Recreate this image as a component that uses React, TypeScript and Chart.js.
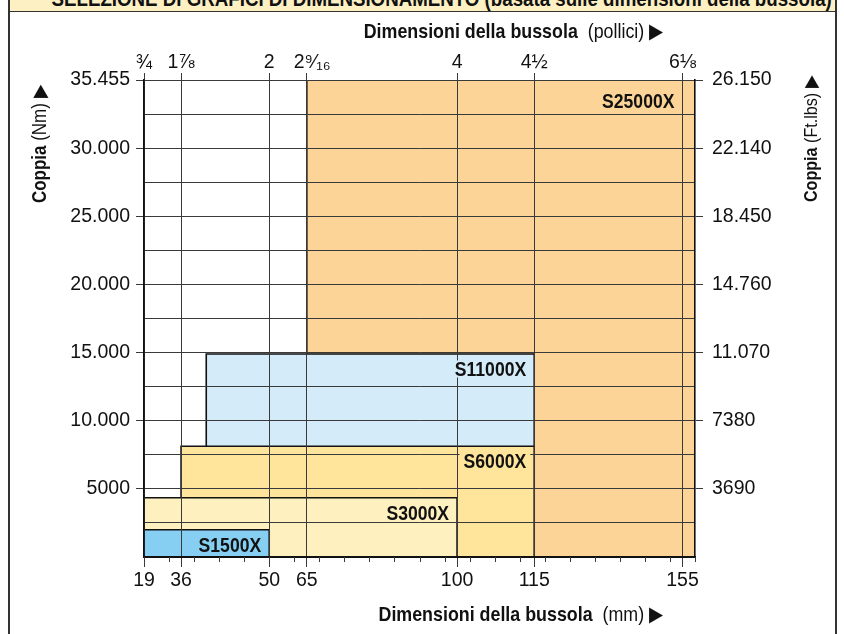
import React, { useEffect, useRef } from 'react';
import { Chart, registerables, LinearScale } from 'chart.js';

Chart.register(...registerables);

// ---------------- data ----------------
const MODELS = ['S1500X', 'S3000X', 'S6000X', 'S11000X', 'S25000X'];
const SIZE_MIN_MM = [19, 19, 36, 40, 65];
const SIZE_MAX_MM = [50, 100, 115, 115, 158];
const TORQUE_MAX_NM = [2000, 4350, 8130, 14900, 35000];

const MM_TICKS = [19, 36, 50, 65, 100, 115, 155];
const MM_LABELS = ['19', '36', '50', '65', '100', '115', '155'];
const INCH_LABELS = ['¾', '1⅞', '2', '  2⁹⁄₁₆', '4', '4½', '6⅛'];

const NM_GRID = [0, 2500, 5000, 7500, 10000, 12500, 15000, 17500, 20000, 22500, 25000, 27500, 30000, 32500, 35000];
const NM_MAJOR = [5000, 10000, 15000, 20000, 25000, 30000, 35000];
const NM_LABELS = ['5000', '10.000', '15.000', '20.000', '25.000', '30.000', '35.455'];
const FTLB_LABELS = ['3690', '7380', '11.070', '14.760', '18.450', '22.140', '26.150'];

// ---------------- axis layout (schematic, non-proportional size axis) ----------------
const AXIS_MM = [19, 36, 50, 65, 100, 115, 155, 158];
const AXIS_UNITS = [0, 1.48, 5, 6.5, 12.5, 15.58, 21.5, 22];
const UNIT_SPAN = AXIS_UNITS[AXIS_UNITS.length - 1];

// ---------------- styles ----------------
const FILLS = ['#86CFF3', '#FEF0BF', '#FEE59B', '#D4EBF9', '#FDD497'];
const GRID = '#3a3a3a';
const INK = '#111111';
const SANS = '"Liberation Sans", Arial, Helvetica, sans-serif';
const CONDENSE = 0.87;

function interp(v: number, xs: number[], ys: number[]) {
  for (let i = 1; i < xs.length; i++) {
    if (v <= xs[i] || i === xs.length - 1) {
      const t = (v - xs[i - 1]) / (xs[i] - xs[i - 1]);
      return ys[i - 1] + t * (ys[i] - ys[i - 1]);
    }
  }
  return ys[ys.length - 1];
}

class SchematicScale extends LinearScale {
  static id = 'schematic';
  getPixelForValue(value: number) {
    return (this as any).getPixelForDecimal(interp(value, AXIS_MM, AXIS_UNITS) / UNIT_SPAN);
  }
  getValueForPixel(pixel: number) {
    return interp((this as any).getDecimalForPixel(pixel) * UNIT_SPAN, AXIS_UNITS, AXIS_MM);
  }
}
Chart.register(SchematicScale as any);

const overlayPlugin = {
  id: 'overlay',
  afterDraw(chart: any) {
    const { ctx, chartArea, scales } = chart;
    const xs = scales.x;
    const ys = scales.y;
    ctx.save();
    // minor ticks on the mm axis
    ctx.strokeStyle = GRID;
    ctx.lineWidth = 1;
    for (let u = 0; u <= UNIT_SPAN; u++) {
      const px = Math.round(xs.getPixelForDecimal(u / UNIT_SPAN)) + 0.5;
      ctx.beginPath();
      ctx.moveTo(px, chartArea.bottom);
      ctx.lineTo(px, chartArea.bottom + 5);
      ctx.stroke();
    }
    // model labels
    ctx.font = `bold 20px ${SANS}`;
    ctx.textAlign = 'right';
    ctx.textBaseline = 'middle';
    MODELS.forEach((name, i) => {
      const right = xs.getPixelForValue(Math.min(SIZE_MAX_MM[i], 155)) - 8;
      const cy = Math.max(ys.getPixelForValue(TORQUE_MAX_NM[i]) + 15.5, chartArea.top + 21);
      const w = ctx.measureText(name).width * 0.88;
      ctx.fillStyle = FILLS[i];
      ctx.fillRect(right - w - 4, cy - 9, w + 8, 17);
      ctx.fillStyle = INK;
      ctx.save();
      ctx.translate(right, cy + 1);
      ctx.scale(0.88, 1);
      ctx.fillText(name, 0, 0);
      ctx.restore();
    });
    ctx.restore();
  },
};

const tickFont = { family: SANS, size: 19.5 };
const majorTickColor = (c: any) => (c.tick && NM_MAJOR.includes(c.tick.value) ? GRID : 'rgba(0,0,0,0)');

function Condensed({ children, origin }: { children: React.ReactNode; origin: string }) {
  return (
    <span style={{ display: 'inline-block', transform: `scaleX(${CONDENSE})`, transformOrigin: origin }}>{children}</span>
  );
}

export default function App() {
  const ref = useRef<HTMLCanvasElement>(null);
  useEffect(() => {
    const datasets = MODELS.map((name, i) => ({
      label: name,
      data: [
        { x: SIZE_MIN_MM[i], y: 0 },
        { x: SIZE_MIN_MM[i], y: TORQUE_MAX_NM[i] },
        { x: SIZE_MAX_MM[i], y: TORQUE_MAX_NM[i] },
        { x: SIZE_MAX_MM[i], y: 0 },
      ],
      backgroundColor: FILLS[i],
      borderColor: INK,
      borderWidth: 1.6,
      fill: 'origin',
      pointRadius: 0,
      tension: 0,
    }));
    const chart = new Chart(ref.current as HTMLCanvasElement, {
      type: 'line',
      data: { datasets },
      plugins: [overlayPlugin],
      options: {
        responsive: false,
        animation: false,
        layout: { padding: 0 },
        plugins: { legend: { display: false }, tooltip: { enabled: false } },
        scales: {
          x: {
            type: 'schematic' as any,
            position: 'bottom',
            min: 19,
            max: 158,
            afterBuildTicks: (s: any) => { s.ticks = MM_TICKS.map((v) => ({ value: v })); },
            afterFit: (s: any) => { s.height = 77; },
            ticks: { autoSkip: false, maxRotation: 0, padding: 2, font: tickFont, color: INK, callback: (_v: any, i: number) => MM_LABELS[i] },
            grid: { color: GRID, lineWidth: 1, z: 1, tickLength: 10, tickColor: GRID },
            border: { display: true, color: INK, width: 2, z: 2 },
          },
          xTop: {
            type: 'schematic' as any,
            position: 'top',
            min: 19,
            max: 158,
            afterBuildTicks: (s: any) => { s.ticks = MM_TICKS.map((v) => ({ value: v })); },
            afterFit: (s: any) => { s.height = 80; },
            ticks: { autoSkip: false, maxRotation: 0, padding: -1, font: tickFont, color: INK, callback: (_v: any, i: number) => INCH_LABELS[i] },
            grid: { drawOnChartArea: false, color: GRID, lineWidth: 1, tickLength: 7 },
            border: { display: true, color: GRID, width: 1, z: 2 },
          },
          y: {
            type: 'linear',
            position: 'left',
            min: 0,
            max: 35000,
            afterBuildTicks: (s: any) => { s.ticks = NM_GRID.map((v) => ({ value: v })); },
            afterFit: (s: any) => { s.width = 144; },
            ticks: { autoSkip: false, padding: 6, font: tickFont, color: INK, callback: (v: any) => { const k = NM_MAJOR.indexOf(v); return k >= 0 ? NM_LABELS[k] : ''; } },
            grid: { color: GRID, lineWidth: 1, z: 1, tickLength: 8, tickColor: majorTickColor },
            border: { display: true, color: INK, width: 1.6, z: 2 },
          },
          yR: {
            type: 'linear',
            position: 'right',
            min: 0,
            max: 35000,
            afterBuildTicks: (s: any) => { s.ticks = NM_GRID.map((v) => ({ value: v })); },
            afterFit: (s: any) => { s.width = 149; },
            ticks: { autoSkip: false, padding: 9, font: tickFont, color: INK, callback: (v: any) => { const k = NM_MAJOR.indexOf(v); return k >= 0 ? FTLB_LABELS[k] : ''; } },
            grid: { drawOnChartArea: false, color: GRID, lineWidth: 1, tickLength: 8, tickColor: majorTickColor },
            border: { display: true, color: INK, width: 1.6, z: 2 },
          },
        },
      } as any,
    });
    return () => chart.destroy();
  }, []);

  const titleStyle: React.CSSProperties = {
    position: 'absolute',
    fontFamily: SANS,
    fontSize: 20.5,
    lineHeight: '20px',
    whiteSpace: 'nowrap',
    color: INK,
  };

  return (
    <div style={{ position: 'absolute', left: 0, top: 0, width: 844, height: 634, overflow: 'hidden', background: '#fff' }}>
      <div style={{ position: 'absolute', left: 8, top: 0, width: 1.5, height: 634, background: '#333' }} />
      <div style={{ position: 'absolute', left: 835, top: 0, width: 1.5, height: 634, background: '#333' }} />
      <div style={{ position: 'absolute', left: 9.5, top: 0, width: 825.5, height: 11, background: '#FDF0C3', borderBottom: '1.5px solid #333', overflow: 'hidden' }}>
        <div style={{ ...titleStyle, fontSize: 21.5, lineHeight: '22px', right: 3, top: -12, fontWeight: 'bold', textAlign: 'right' }}>
          <Condensed origin="right center">SELEZIONE DI GRAFICI DI DIMENSIONAMENTO (basata sulle dimensioni della bussola)</Condensed>
        </div>
      </div>
      <canvas ref={ref} width={844} height={634} style={{ position: 'absolute', left: 0, top: 0 }} />
      <div style={{ ...titleStyle, left: 0, width: 663, top: 21, textAlign: 'right' }}>
        <Condensed origin="right center"><b>Dimensioni della bussola</b>{'\u00a0 (pollici) ▶'}</Condensed>
      </div>
      <div style={{ ...titleStyle, left: 0, width: 663, top: 604, textAlign: 'right' }}>
        <Condensed origin="right center"><b>Dimensioni della bussola</b>{'\u00a0 (mm) ▶'}</Condensed>
      </div>
      <div style={{ ...titleStyle, fontSize: 19.5, lineHeight: '19px', left: 30, top: 203, transform: `rotate(-90deg) scaleX(${CONDENSE})`, transformOrigin: '0 0' }}>
        <b>Coppia</b>{' (Nm) ▶'}
      </div>
      <div style={{ ...titleStyle, fontSize: 18.5, lineHeight: '18px', left: 802, top: 202, transform: `rotate(-90deg) scaleX(${CONDENSE})`, transformOrigin: '0 0' }}>
        <b>Coppia</b>{' (Ft.lbs) ▶'}
      </div>
    </div>
  );
}
